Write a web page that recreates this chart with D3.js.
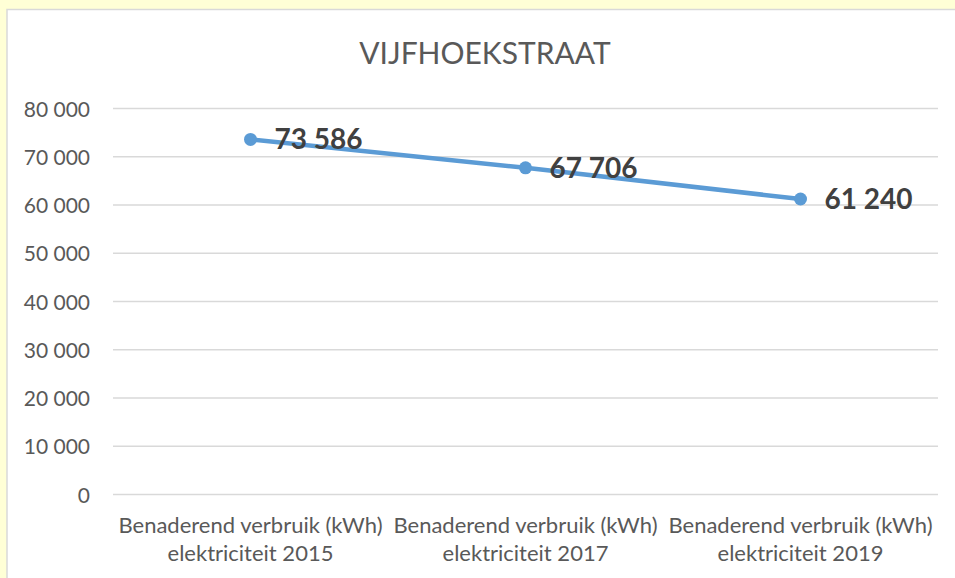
<!DOCTYPE html>
<html>
<head>
<meta charset="utf-8">
<script src="https://cdn.jsdelivr.net/npm/d3@7"></script>
<style>
  html, body { margin: 0; padding: 0; background: #FFFFD6; }
  svg { display: block; }
</style>
</head>
<body>
<svg id="chart" width="955" height="578"></svg>
<script>
// Approximate electricity use (kWh), Vijfhoekstraat
const categories = [
  ["Benaderend verbruik (kWh)", "elektriciteit 2015"],
  ["Benaderend verbruik (kWh)", "elektriciteit 2017"],
  ["Benaderend verbruik (kWh)", "elektriciteit 2019"]
];
const values = [73586, 67706, 61240];
const yTicks = [0, 10000, 20000, 30000, 40000, 50000, 60000, 70000, 80000];
const title = "VIJFHOEKSTRAAT";

const svg = d3.select("#chart");
const font = "Lato, 'Open Sans', sans-serif";

// chart area panel
svg.append("rect")
  .attr("x", 7).attr("y", 9.5)
  .attr("width", 960).attr("height", 580)
  .attr("fill", "#ffffff")
  .attr("stroke", "#D9D9D9").attr("stroke-width", 1.5);

const plot = { left: 113, right: 938, top: 108.5, bottom: 494.5 };

const x = d3.scaleBand()
  .domain(d3.range(categories.length))
  .range([plot.left, plot.right]);
const y = d3.scaleLinear()
  .domain([0, 80000])
  .range([plot.bottom, plot.top]);

const fmt = v => d3.format(",")(v).replace(/,/g, " ");

// gridlines
svg.append("g").selectAll("line")
  .data(yTicks).join("line")
  .attr("x1", plot.left).attr("x2", plot.right)
  .attr("y1", d => y(d)).attr("y2", d => y(d))
  .attr("stroke", "#D9D9D9").attr("stroke-width", 1.3);

// y axis labels
const yAxis = d3.axisLeft(y).tickValues(yTicks).tickFormat(fmt).tickSize(0).tickPadding(0);
svg.append("g")
  .attr("transform", `translate(${plot.left - 23},0)`)
  .call(yAxis)
  .call(g => g.select(".domain").remove())
  .call(g => g.selectAll("text")
    .attr("dy", 7.5)
    .attr("fill", "#595959")
    .style("font-family", font)
    .style("font-size", "21px"));

// category labels
const cat = svg.append("g").selectAll("text")
  .data(categories).join("text")
  .attr("x", (d, i) => x(i) + x.bandwidth() / 2)
  .attr("y", 533)
  .attr("text-anchor", "middle")
  .attr("fill", "#595959")
  .style("font-family", font)
  .style("font-size", "22px");
cat.selectAll("tspan")
  .data(d => d).join("tspan")
  .attr("x", function() { return d3.select(this.parentNode).attr("x"); })
  .attr("dy", (d, i) => i === 0 ? 0 : 27.5)
  .text(d => d);

// title
svg.append("text")
  .attr("x", 485).attr("y", 63.5)
  .attr("text-anchor", "middle")
  .attr("fill", "#595959")
  .style("font-family", font)
  .style("font-size", "30px")
  .text(title);

// line and markers
const cx = i => x(i) + x.bandwidth() / 2;
const line = d3.line().x((d, i) => cx(i)).y(d => y(d));
svg.append("path")
  .datum(values)
  .attr("d", line)
  .attr("fill", "none")
  .attr("stroke", "#5B9BD5")
  .attr("stroke-width", 4.5)
  .attr("stroke-linecap", "round");

svg.append("g").selectAll("circle")
  .data(values).join("circle")
  .attr("cx", (d, i) => cx(i))
  .attr("cy", d => y(d))
  .attr("r", 6.5)
  .attr("fill", "#5B9BD5");

// value labels
svg.append("g").selectAll("text")
  .data(values).join("text")
  .attr("x", (d, i) => cx(i) + 24)
  .attr("y", d => y(d) + 10)
  .attr("fill", "#404040")
  .style("font-family", font)
  .style("font-weight", "bold")
  .style("font-size", "28px")
  .text(d => fmt(d));
</script>
</body>
</html>
